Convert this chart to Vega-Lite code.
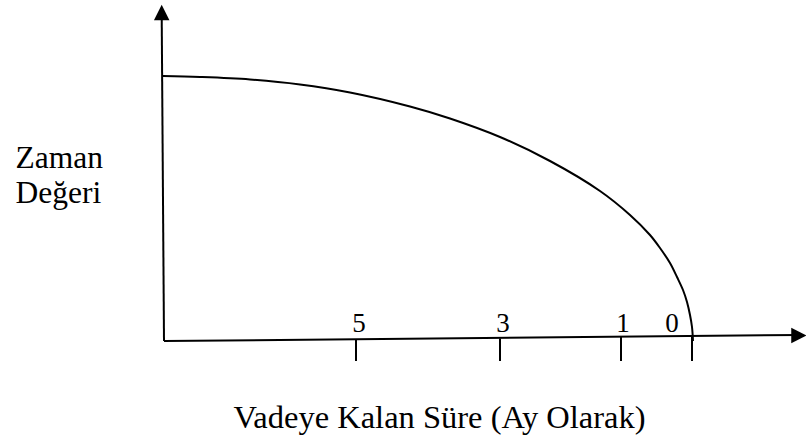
{
  "$schema": "https://vega.github.io/schema/vega-lite/v6.json",
  "width": 806,
  "height": 439,
  "padding": 0,
  "autosize": {"type": "none"},
  "background": "white",
  "config": {
    "view": {"stroke": null},
    "font": "Liberation Serif"
  },
  "layer": [
    {
      "description": "Horizontal axis line (time remaining to maturity)",
      "data": {"values": [{"x0": 4, "y0": 0, "x1": 640, "y1": 6}]},
      "mark": {"type": "rule", "color": "black", "strokeWidth": 2},
      "encoding": {
        "x": {"field": "x0", "type": "quantitative", "scale": {"domain": [-160, 646], "nice": false, "zero": false},
              "axis": {"domain": false, "ticks": false, "labels": false, "grid": false,
                       "title": "Vadeye Kalan Süre (Ay Olarak)", "titleFont": "Liberation Serif",
                       "titleFontSize": 32.5, "titleFontWeight": "normal", "titleColor": "black",
                       "titleX": 439, "titleY": -12, "titleAlign": "center", "titleBaseline": "alphabetic"}},
        "y": {"field": "y0", "type": "quantitative", "scale": {"domain": [-98, 341], "nice": false, "zero": false},
              "axis": {"domain": false, "ticks": false, "labels": false, "grid": false,
                       "title": ["Zaman", "Değeri"], "titleFont": "Liberation Serif",
                       "titleFontSize": 31.5, "titleFontWeight": "normal", "titleColor": "black",
                       "titleAngle": 0, "titleX": 15, "titleY": 167, "titleAlign": "left",
                       "titleBaseline": "alphabetic", "titleLineHeight": 35}},
        "x2": {"field": "x1"},
        "y2": {"field": "y1"}
      }
    },
    {
      "description": "Vertical axis line (time value)",
      "data": {"values": [{"x0": 4, "y0": 0, "x1": 1.7, "y1": 325}]},
      "mark": {"type": "rule", "color": "black", "strokeWidth": 2},
      "encoding": {
        "x": {"field": "x0", "type": "quantitative"},
        "y": {"field": "y0", "type": "quantitative"},
        "x2": {"field": "x1"},
        "y2": {"field": "y1"}
      }
    },
    {
      "description": "Arrow heads at the ends of both axes",
      "data": {"values": [
        {"x": 1.7, "y": 328.5, "yon": "yukari"},
        {"x": 639, "y": 5.5, "yon": "sag"}
      ]},
      "mark": {"type": "point", "filled": true, "color": "black", "opacity": 1, "size": 240},
      "encoding": {
        "x": {"field": "x", "type": "quantitative"},
        "y": {"field": "y", "type": "quantitative"},
        "shape": {"field": "yon", "type": "nominal",
                  "scale": {"domain": ["yukari", "sag"], "range": ["M-1,1L1,1L0,-1Z", "M-1,-1L1,0L-1,1Z"]},
                  "legend": null}
      }
    },
    {
      "description": "Time value decaying as maturity approaches",
      "data": {"values": [
        {"sure": 3, "deger": 265},
        {"sure": 40, "deger": 264},
        {"sure": 90, "deger": 261.5},
        {"sure": 140, "deger": 256.5},
        {"sure": 190, "deger": 248.5},
        {"sure": 250, "deger": 234.5},
        {"sure": 290, "deger": 222.5},
        {"sure": 340, "deger": 204},
        {"sure": 390, "deger": 180},
        {"sure": 440, "deger": 150},
        {"sure": 470, "deger": 126},
        {"sure": 490, "deger": 106},
        {"sure": 500, "deger": 93},
        {"sure": 510, "deger": 78},
        {"sure": 517, "deger": 64},
        {"sure": 523, "deger": 51},
        {"sure": 527, "deger": 39},
        {"sure": 530, "deger": 26},
        {"sure": 532, "deger": 14},
        {"sure": 533, "deger": 0}
      ]},
      "mark": {"type": "line", "color": "black", "strokeWidth": 2, "interpolate": "catmull-rom"},
      "encoding": {
        "x": {"field": "sure", "type": "quantitative"},
        "y": {"field": "deger", "type": "quantitative"}
      }
    },
    {
      "description": "Month tick marks below the horizontal axis",
      "data": {"name": "aylar", "values": [
        {"ay": "5", "konum": 196, "ust": 1.5, "etiket_konum": 199},
        {"ay": "3", "konum": 340, "ust": 2.5, "etiket_konum": 343},
        {"ay": "1", "konum": 461, "ust": 4, "etiket_konum": 463},
        {"ay": "0", "konum": 532, "ust": 6, "etiket_konum": 512}
      ]},
      "layer": [
        {
          "mark": {"type": "rule", "color": "black", "strokeWidth": 2},
          "encoding": {
            "x": {"field": "konum", "type": "quantitative"},
            "y": {"field": "ust", "type": "quantitative"},
            "y2": {"datum": -20}
          }
        },
        {
          "mark": {"type": "text", "color": "black", "font": "Liberation Serif", "fontSize": 27,
                   "align": "center", "baseline": "alphabetic"},
          "encoding": {
            "x": {"field": "etiket_konum", "type": "quantitative"},
            "y": {"datum": 9},
            "text": {"field": "ay"}
          }
        }
      ]
    }
  ]
}
